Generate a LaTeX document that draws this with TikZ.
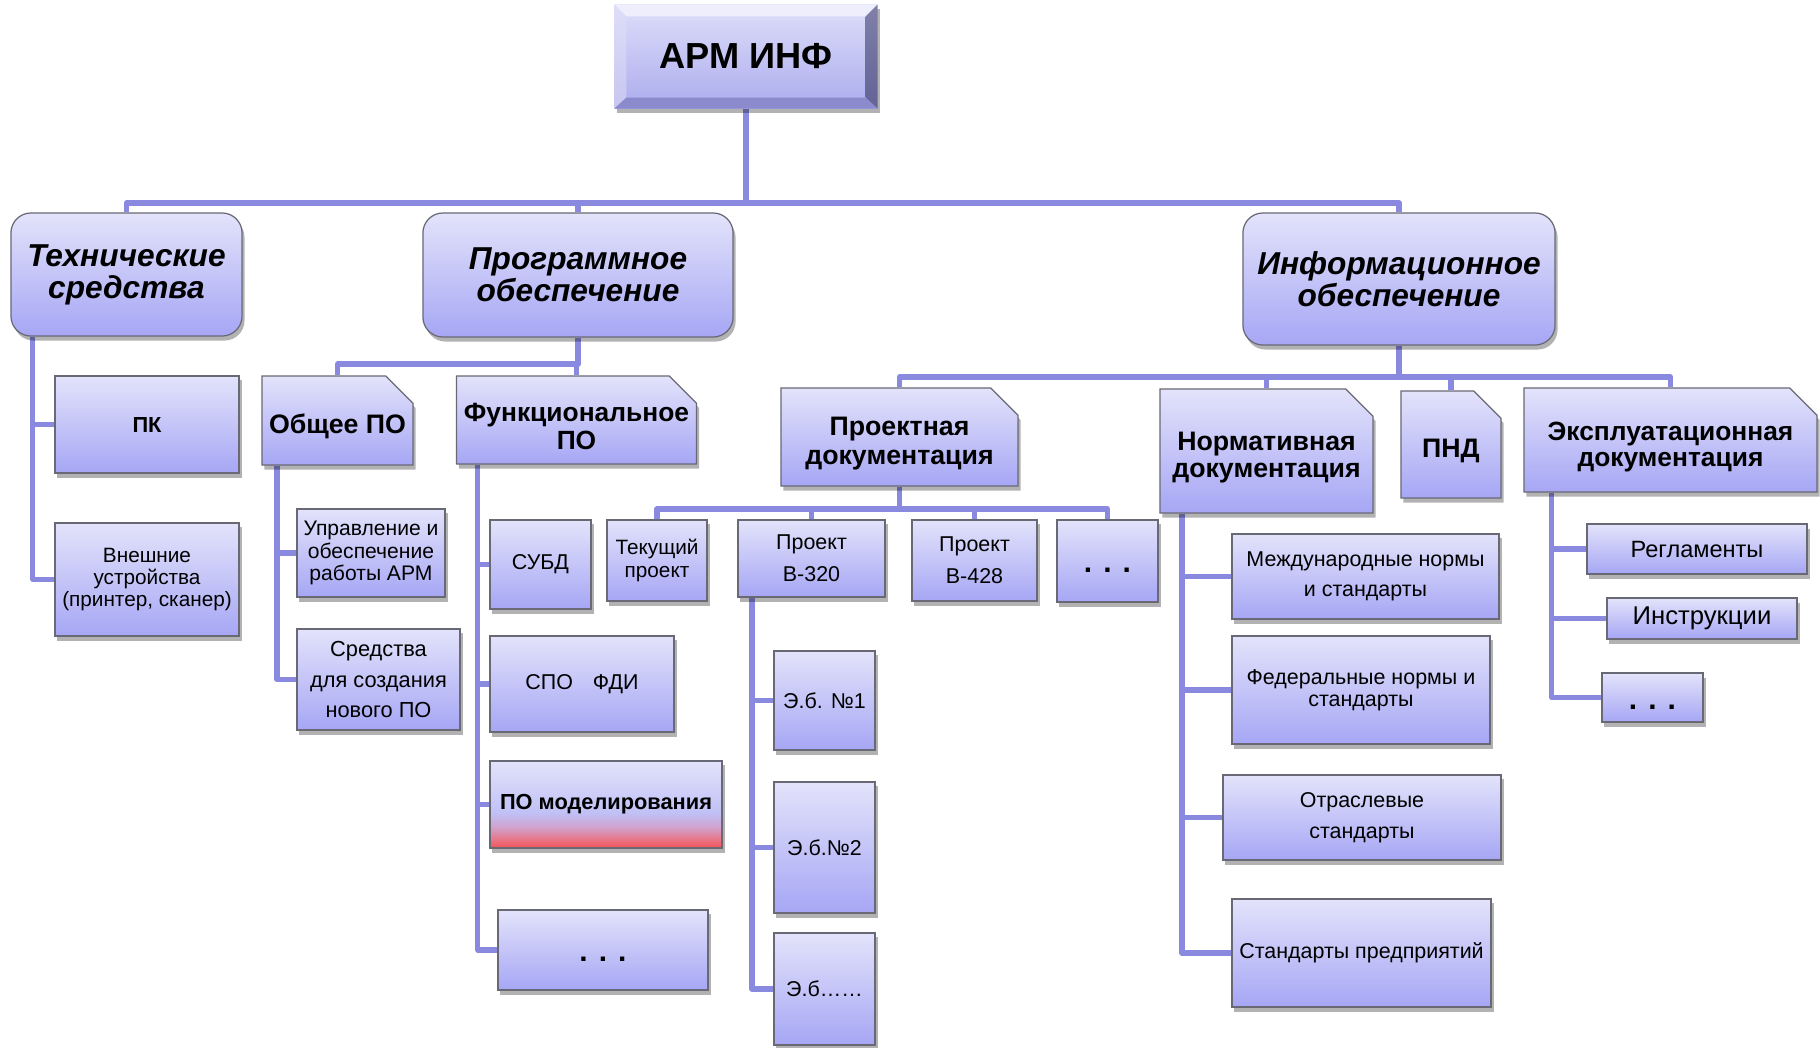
\documentclass[tikz,border=0pt]{standalone}
\usepackage{fontspec}
\setmainfont{Liberation Sans}
\usetikzlibrary{shadows,shapes.misc}
\definecolor{boxtop}{RGB}{227,227,251}
\definecolor{boxbot}{RGB}{166,166,245}
\definecolor{conncol}{RGB}{137,137,224}
\definecolor{bordcol}{RGB}{105,105,118}
\definecolor{pmred}{RGB}{245,82,88}
\definecolor{pmrose}{RGB}{232,118,135}
\definecolor{pmpink}{RGB}{208,162,205}
\definecolor{pmlav}{RGB}{192,192,246}
\definecolor{armtop}{RGB}{222,222,250}
\definecolor{armbot}{RGB}{172,172,238}
\definecolor{bvtopc}{RGB}{238,238,252}
\definecolor{bvlefta}{RGB}{222,222,249}
\definecolor{bvleftb}{RGB}{198,198,240}
\definecolor{bvrighta}{RGB}{128,128,170}
\definecolor{bvrightb}{RGB}{98,98,150}
\definecolor{bvbotc}{RGB}{138,138,205}
\pgfdeclareverticalshading{pomodshade}{100bp}{color(0bp)=(pmred); color(25bp)=(pmred); color(30bp)=(pmrose); color(37bp)=(pmpink); color(45bp)=(pmlav); color(75bp)=(boxtop); color(100bp)=(boxtop)}
\pgfdeclarelayer{bg}
\pgfsetlayers{bg,main}
\newcommand\tgap{\rule{0pt}{9.1pt}}
\tikzset{
  wh/.style 2 args={minimum width=#1cm, minimum height=#2cm},
  boxbase/.style={draw=bordcol, line width=0.35pt,
    drop shadow={shadow xshift=0.025cm, shadow yshift=-0.045cm, opacity=0.3, fill=black},
    align=center, inner sep=0pt, text=black, font=\fontsize{6.1}{6.4}\selectfont},
  box/.style={boxbase, top color=boxtop, bottom color=boxbot},
  lvl1/.style={box, rounded corners=0.2cm, font=\fontsize{9}{9.1}\selectfont\bfseries\itshape},
  snip/.style={box, chamfered rectangle, chamfered rectangle corners=north east,
    chamfered rectangle xsep=0.15cm, inner xsep=-0.15cm,
    font=\fontsize{7.6}{8.2}\selectfont\bfseries},
  dotbox/.style={box, font=\fontsize{8.5}{9}\selectfont\bfseries, text height=6.8pt, text depth=0pt},
  conn/.style={draw=conncol, line width=1.45pt, line join=round},
}
\begin{document}
\begin{tikzpicture}[x=0.01cm, y=-0.01cm]
\useasboundingbox (0,0) rectangle (1820,1047);

% root
\node[boxbase, draw=none, top color=armtop, bottom color=armbot, wh={2.62}{1.03},
      font=\fontsize{10.3}{12}\selectfont\bfseries] (arm) at (746,56.5) {АРМ ИНФ};
\fill[bvtopc] (arm.north west) -- (arm.north east) -- ([shift={(-0.12cm,-0.12cm)}]arm.north east) -- ([shift={(0.12cm,-0.12cm)}]arm.north west) -- cycle;
\shade[top color=bvlefta, bottom color=bvleftb] (arm.north west) -- ([shift={(0.12cm,-0.12cm)}]arm.north west) -- ([shift={(0.12cm,0.11cm)}]arm.south west) -- (arm.south west) -- cycle;
\shade[top color=bvrighta, bottom color=bvrightb] (arm.north east) -- (arm.south east) -- ([shift={(-0.12cm,0.11cm)}]arm.south east) -- ([shift={(-0.12cm,-0.12cm)}]arm.north east) -- cycle;
\fill[bvbotc] (arm.south west) -- ([shift={(0.12cm,0.11cm)}]arm.south west) -- ([shift={(-0.12cm,0.11cm)}]arm.south east) -- (arm.south east) -- cycle;

% level 1
\node[lvl1, wh={2.31}{1.23}] (tech) at (126.5,274.5) {Технические\\средства};
\node[lvl1, wh={3.10}{1.24}] (prog) at (578,275) {Программное\\обеспечение};
\node[lvl1, wh={3.12}{1.32}] (info) at (1399,279) {Информационное\\обеспечение};

% technical
\node[box, wh={1.84}{0.97}, font=\fontsize{6.2}{7}\selectfont\bfseries] (pk) at (147,424.5) {ПК};
\node[box, wh={1.84}{1.13}, font=\fontsize{5.9}{6.3}\selectfont] (ext) at (147,579.5) {Внешние\\устройства\\(принтер, сканер)};

% software
\node[snip, wh={1.51}{0.89}] (obsh) at (337.5,420.5) {\tgap Общее ПО};
\node[snip, wh={2.40}{0.88}, font=\fontsize{7.5}{8}\selectfont\bfseries] (funk) at (576.5,420) {\tgap Функциональное\\ПО};
\node[box, wh={1.48}{0.88}, font=\fontsize{6}{6.3}\selectfont] (upr) at (371,553) {Управление и\\обеспечение\\работы АРМ};
\node[box, wh={1.63}{1.01}, font=\fontsize{6.2}{8.6}\selectfont] (sred) at (378.5,679.5) {Средства\\для создания\\нового ПО};
\node[box, wh={1.01}{0.89}] (subd) at (540.5,564.5) {СУБД};
\node[box, wh={1.00}{0.81}, font=\fontsize{5.9}{6.3}\selectfont] (tek) at (657,560.5) {Текущий\\проект};
\node[box, wh={1.84}{0.96}] (spo) at (582,684) {СПО\hspace{0.93em}ФДИ};
\node[boxbase, shading=pomodshade, wh={2.32}{0.87}, font=\fontsize{6.2}{7}\selectfont\bfseries] (pomod) at (606,804.5) {ПО моделирования};
\node[dotbox, wh={2.10}{0.80}] (fdots) at (603,950) {. . .};

% information
\node[snip, wh={2.37}{0.98}] (proekt) at (899.5,437) {\tgap Проектная\\документация};
\node[snip, wh={2.13}{1.24}, font=\fontsize{7.6}{7.8}\selectfont\bfseries] (norm) at (1266.5,451) {\tgap Нормативная\\документация};
\node[snip, wh={1.00}{1.07}] (pnd) at (1451,444.5) {\tgap ПНД};
\node[snip, wh={2.93}{1.04}, font=\fontsize{7.5}{7.5}\selectfont\bfseries] (expl) at (1670.5,440) {\tgap Эксплуатационная\\документация};

\node[box, wh={1.47}{0.77}, font=\fontsize{6.1}{9.1}\selectfont] (b320) at (811.5,558.5) {Проект\\В-320};
\node[box, wh={1.25}{0.81}, font=\fontsize{6.1}{9.1}\selectfont] (b428) at (974.5,560.5) {Проект\\В-428};
\node[dotbox, wh={1.01}{0.82}] (pdots) at (1107.5,561) {. . .};
\node[box, wh={1.01}{0.99}] (eb1) at (824.5,700.5) {Э.б. №1};
\node[box, wh={1.01}{1.31}] (eb2) at (824.5,847.5) {Э.б.№2};
\node[box, wh={1.01}{1.12}] (eb3) at (824.5,989) {Э.б……};

\node[box, wh={2.67}{0.85}, font=\fontsize{6.1}{8.5}\selectfont] (mezh) at (1365.5,576.5) {Международные нормы\\и стандарты};
\node[box, wh={2.58}{1.08}, font=\fontsize{6.1}{6.3}\selectfont] (fed) at (1361,690) {Федеральные нормы и\\стандарты};
\node[box, wh={2.78}{0.85}, font=\fontsize{6.1}{8.8}\selectfont] (otr) at (1362,817.5) {Отраслевые\\стандарты};
\node[box, wh={2.59}{1.08}] (stand) at (1361.5,953) {Стандарты предприятий};

\node[box, wh={2.20}{0.50}, font=\fontsize{6.7}{7}\selectfont] (regl) at (1697,549) {Регламенты};
\node[box, wh={1.90}{0.41}, font=\fontsize{7.3}{8}\selectfont] (instr) at (1702,618.5) {Инструкции};
\node[dotbox, wh={1.01}{0.49}] (edots) at (1652.5,697.5) {. . .};

% bus coordinates
\coordinate (topbus) at (0,203);
\coordinate (pbus) at (0,364);
\coordinate (ibus) at (0,377);
\coordinate (pjbus) at (0,509);

\begin{pgfonlayer}{bg}
\draw[conn] (arm.south) -- (arm.south |- topbus);
\draw[conn] (tech.north) |- (info.north |- topbus) -- (info.north);
\draw[conn] (prog.north) -- (prog.north |- topbus);

\draw[conn] ([xshift=-0.935cm]tech.south) |- (ext.west);
\draw[conn] ([xshift=-0.935cm]tech.south) |- (pk.west);

\draw[conn] (prog.south) |- (funk.north |- pbus) -- (funk.north);
\draw[conn] (obsh.north) |- (prog.south |- pbus);

\draw[conn] ([xshift=-0.605cm]obsh.south) |- (sred.west);
\draw[conn] ([xshift=-0.605cm]obsh.south) |- (upr.west);

\draw[conn] ([xshift=-0.985cm]funk.south) |- (fdots.west);
\draw[conn] ([xshift=-0.985cm]funk.south) |- (subd.west);
\draw[conn] ([xshift=-0.985cm]funk.south) |- (spo.west);
\draw[conn] ([xshift=-0.985cm]funk.south) |- (pomod.west);

\draw[conn] (info.south) -- (info.south |- ibus);
\draw[conn] (proekt.north) |- (expl.north |- ibus) -- (expl.north);
\draw[conn] (norm.north) -- (norm.north |- ibus);
\draw[conn] (pnd.north) -- (pnd.north |- ibus);

\draw[conn] (proekt.south) -- (proekt.south |- pjbus);
\draw[conn] (tek.north) |- (pdots.north |- pjbus) -- (pdots.north);
\draw[conn] (b320.north) -- (b320.north |- pjbus);
\draw[conn] (b428.north) -- (b428.north |- pjbus);

\draw[conn] ([xshift=-0.595cm]b320.south) |- (eb3.west);
\draw[conn] ([xshift=-0.595cm]b320.south) |- (eb1.west);
\draw[conn] ([xshift=-0.595cm]b320.south) |- (eb2.west);

\draw[conn] ([xshift=-0.845cm]norm.south) |- (stand.west);
\draw[conn] ([xshift=-0.845cm]norm.south) |- (mezh.west);
\draw[conn] ([xshift=-0.845cm]norm.south) |- (fed.west);
\draw[conn] ([xshift=-0.845cm]norm.south) |- (otr.west);

\draw[conn] ([xshift=-1.185cm]expl.south) |- (edots.west);
\draw[conn] ([xshift=-1.185cm]expl.south) |- (regl.west);
\draw[conn] ([xshift=-1.185cm]expl.south) |- (instr.west);
\end{pgfonlayer}
\end{tikzpicture}
\end{document}
